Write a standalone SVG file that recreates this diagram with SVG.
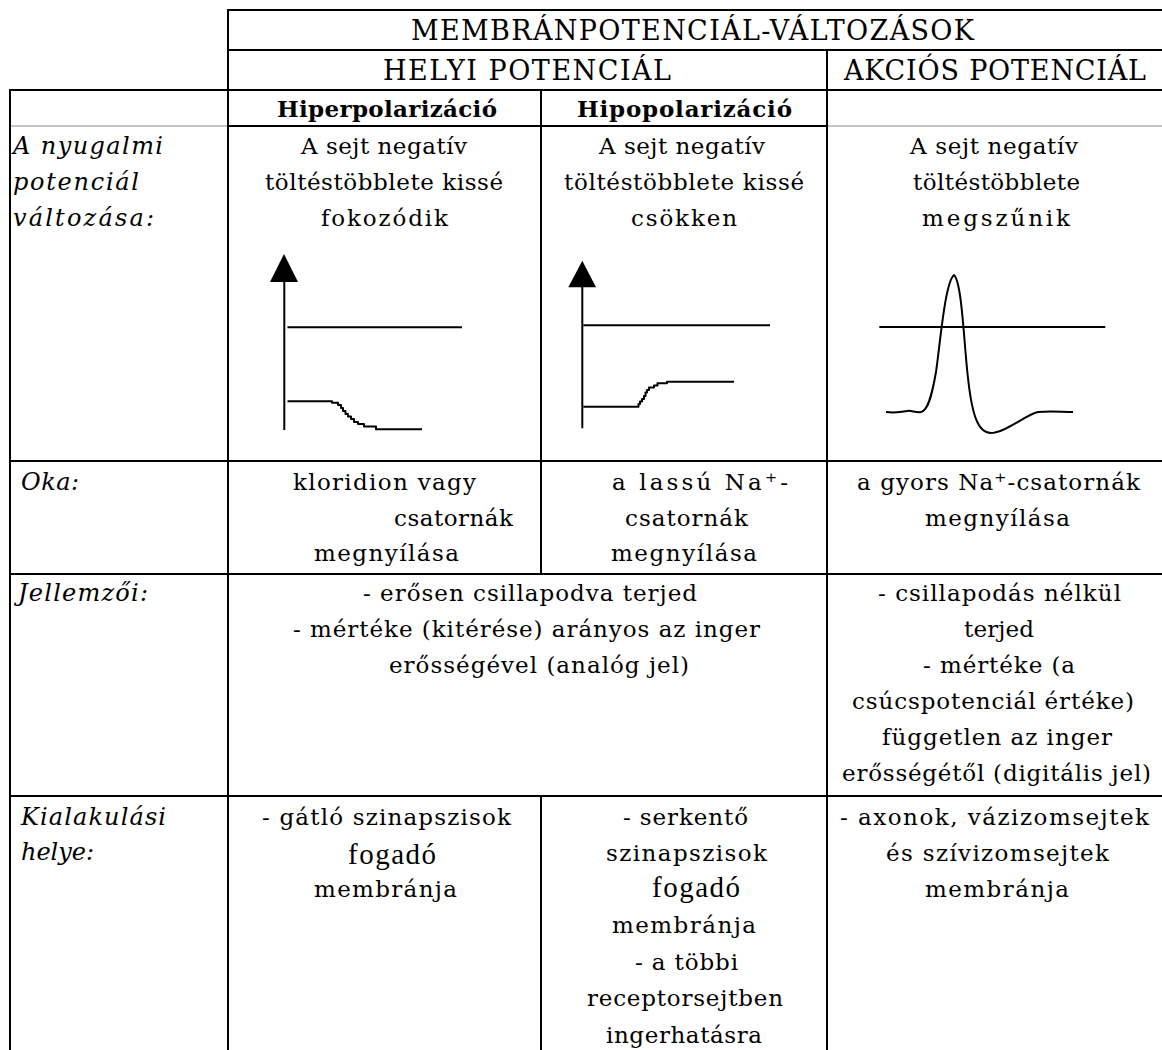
<svg xmlns="http://www.w3.org/2000/svg" width="1162" height="1050" viewBox="0 0 1162 1050">
<style>
.ln{stroke:#000;stroke-width:2;fill:none}
.lg{stroke:#c4c4c4;stroke-width:2;fill:none}
.cv{stroke:#000;stroke-width:2;fill:none;stroke-linejoin:round}
.r{font-family:"DejaVu Serif","Liberation Serif",serif;font-size:23px;fill:#000}
.i{font-style:italic;font-size:24px}
.b{font-weight:bold;font-size:23px}
.h{font-size:27px}
.tn{font-family:"Liberation Serif","Times New Roman",serif;font-size:29px;fill:#000}
</style>
<rect width="1162" height="1050" fill="#fff"/>
<g id="grid">
<line class="ln" x1="227" y1="10" x2="1162" y2="10"/>
<line class="ln" x1="227" y1="50" x2="1162" y2="50"/>
<line class="ln" x1="9" y1="90" x2="1162" y2="90"/>
<line class="lg" x1="11" y1="126" x2="227" y2="126"/>
<line class="ln" x1="228" y1="126" x2="827" y2="126"/>
<line class="lg" x1="828" y1="126" x2="1162" y2="126"/>
<line class="ln" x1="9" y1="461" x2="1162" y2="461"/>
<line class="ln" x1="9" y1="574" x2="1162" y2="574"/>
<line class="ln" x1="9" y1="796" x2="1162" y2="796"/>
<line class="ln" x1="10" y1="89" x2="10" y2="1050"/>
<line class="ln" x1="228" y1="9" x2="228" y2="1050"/>
<line class="ln" x1="541" y1="89" x2="541" y2="574"/>
<line class="ln" x1="541" y1="796" x2="541" y2="1050"/>
<line class="ln" x1="827" y1="49" x2="827" y2="1050"/>
</g>
<g id="header">
<text class="r h" x="411" y="40" textLength="563">MEMBRÁNPOTENCIÁL-VÁLTOZÁSOK</text>
<text class="r h" x="383" y="80" textLength="288">HELYI POTENCIÁL</text>
<text class="r h" x="844" y="80" textLength="302">AKCIÓS POTENCIÁL</text>
<text class="r b" x="277" y="117" textLength="220">Hiperpolarizáció</text>
<text class="r b" x="577" y="117" textLength="215">Hipopolarizáció</text>
</g>
<g id="row-nyugalmi">
<text class="r i" x="13" y="154" textLength="150">A nyugalmi</text>
<text class="r i" x="13" y="190" textLength="126">potenciál</text>
<text class="r i" x="13" y="226" textLength="141">változása:</text>
<text class="r" x="301" y="154" textLength="166">A sejt negatív</text>
<text class="r" x="265" y="190" textLength="238">töltéstöbblete kissé</text>
<text class="r" x="321" y="226" textLength="127">fokozódik</text>
<text class="r" x="599" y="154" textLength="166">A sejt negatív</text>
<text class="r" x="564" y="190" textLength="240">töltéstöbblete kissé</text>
<text class="r" x="631" y="226" textLength="106">csökken</text>
<text class="r" x="910" y="154" textLength="168">A sejt negatív</text>
<text class="r" x="913" y="190" textLength="167">töltéstöbblete</text>
<text class="r" x="922" y="226" textLength="148">megszűnik</text>
</g>
<g id="graph-hiper">
<polygon points="284,254 270,282 298,282" fill="#000"/>
<line class="ln" x1="284.3" y1="280" x2="284.3" y2="430"/>
<line class="ln" x1="287.5" y1="327.3" x2="462" y2="327.3"/>
<path class="cv" d="M287.5,401.3 H332 V402.7 H338 V405 H341 V408 H343 V411 H345.5 V414 H348 V416.5 H351 V419 H354 V422 H358 V424 H364 V426.5 H376 V429.3 H422"/>
</g>
<g id="graph-hipo">
<polygon points="582.3,260.7 568.3,287.3 596,287.3" fill="#000"/>
<line class="ln" x1="582.3" y1="285" x2="582.3" y2="428.3"/>
<line class="ln" x1="583.3" y1="325.3" x2="770" y2="325.3"/>
<path class="cv" d="M583.3,406.7 H638.5 V404 H640 V401.5 H642 V399 H644 V396 H645.5 V392.5 H647 V390 H649 V387.5 H654 V385.5 H657.5 V383.3 H667 V381.7 H734"/>
</g>
<g id="graph-akcio">
<line class="ln" x1="879.3" y1="327" x2="1105.3" y2="327"/>
<path class="cv" d="M886,412 C895,413 902,412 907,411 C911,410 916,413 921,412 C928,411 932,395 936,372 C940,345 945,282 954,275 C962,282 964,345 968,378 C972,415 978,433 991,433 C1005,433 1025,415 1038,412 C1050,411 1062,412 1073,412"/>
</g>
<g id="row-oka">
<text class="r i" x="21" y="490" textLength="58">Oka:</text>
<text class="r" x="293" y="490" textLength="183">kloridion vagy</text>
<text class="r" x="394" y="526" textLength="119">csatornák</text>
<text class="r" x="314" y="561" textLength="145">megnyílása</text>
<text class="r" x="612" y="490" textLength="176">a lassú Na⁺-</text>
<text class="r" x="625" y="526" textLength="123">csatornák</text>
<text class="r" x="611" y="561" textLength="146">megnyílása</text>
<text class="r" x="857" y="490" textLength="283">a gyors Na⁺-csatornák</text>
<text class="r" x="925" y="526" textLength="145">megnyílása</text>
</g>
<g id="row-jellemzoi">
<text class="r i" x="18" y="601" textLength="130">Jellemzői:</text>
<text class="r" x="363" y="601" textLength="334">- erősen csillapodva terjed</text>
<text class="r" x="293" y="637" textLength="467">- mértéke (kitérése) arányos az inger</text>
<text class="r" x="389" y="673" textLength="300">erősségével (analóg jel)</text>
<text class="r" x="878" y="601" textLength="243">- csillapodás nélkül</text>
<text class="r" x="964" y="637" textLength="70">terjed</text>
<text class="r" x="923" y="673" textLength="152">- mértéke (a</text>
<text class="r" x="852" y="709" textLength="282">csúcspotenciál értéke)</text>
<text class="r" x="882" y="745" textLength="230">független az inger</text>
<text class="r" x="842" y="781" textLength="309">erősségétől (digitális jel)</text>
</g>
<g id="row-kialakulasi">
<text class="r i" x="21" y="825" textLength="145">Kialakulási</text>
<text class="r i" x="21" y="860" textLength="73">helye:</text>
<text class="r" x="262" y="825" textLength="249">- gátló szinapszisok</text>
<text class="tn" x="348" y="864" textLength="88">fogadó</text>
<text class="r" x="314" y="897" textLength="143">membránja</text>
<text class="r" x="623" y="825" textLength="125">- serkentő</text>
<text class="r" x="606" y="861" textLength="161">szinapszisok</text>
<text class="tn" x="652" y="897" textLength="88">fogadó</text>
<text class="r" x="612" y="933" textLength="144">membránja</text>
<text class="r" x="635" y="970" textLength="103">- a többi</text>
<text class="r" x="587" y="1006" textLength="196">receptorsejtben</text>
<text class="r" x="606" y="1043" textLength="156">ingerhatásra</text>
<text class="r" x="840" y="825" textLength="309">- axonok, vázizomsejtek</text>
<text class="r" x="886" y="861" textLength="223">és szívizomsejtek</text>
<text class="r" x="925" y="897" textLength="144">membránja</text>
</g>
</svg>
